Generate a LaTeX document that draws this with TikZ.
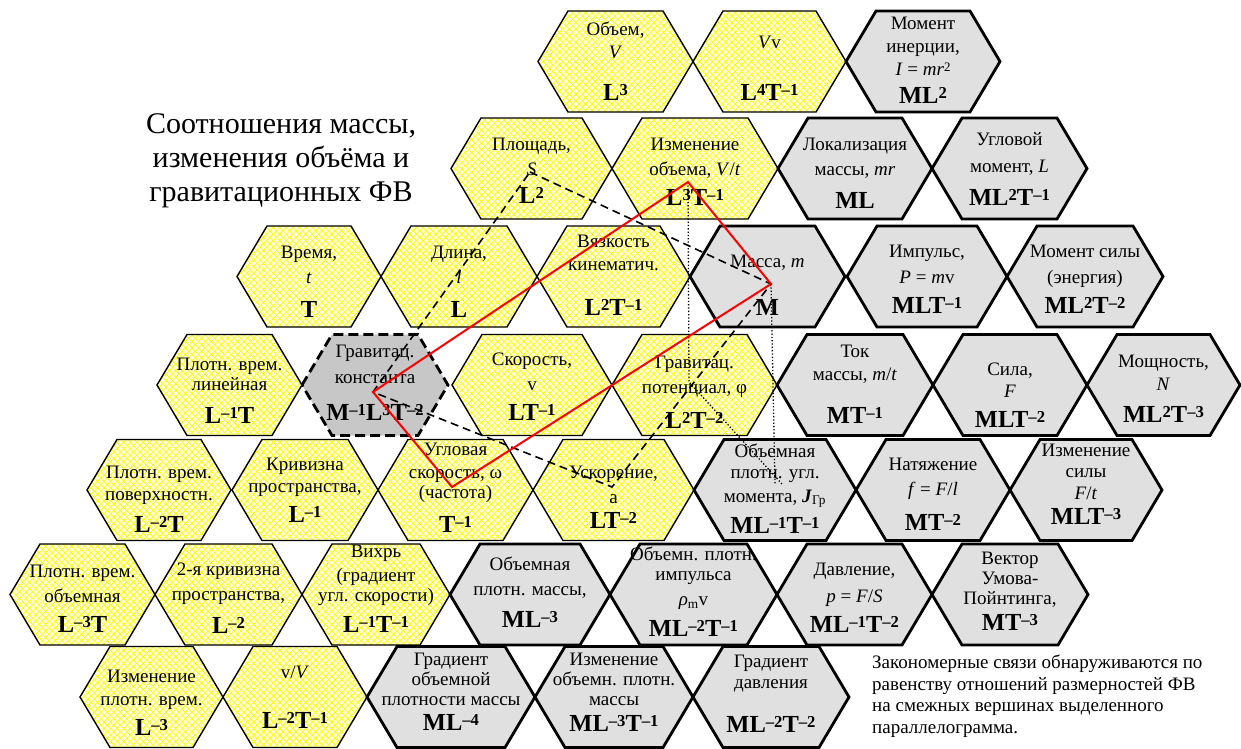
\documentclass[tikz,border=0pt]{standalone}
\usepackage{fontspec}
\setmainfont{Liberation Serif}
\usetikzlibrary{patterns.meta}
\newcommand\su[1]{\raisebox{0.2em}{\scalebox{0.68}{#1}}}
\tikzset{
  yhex/.style={fill=yellow!10,
    postaction={pattern={Lines[angle=45,distance=4.6pt,line width=0.8pt]},pattern color=yellow},
    postaction={pattern={Lines[angle=-45,distance=4.6pt,line width=0.8pt]},pattern color=yellow},
    postaction={draw=black,line width=1.4pt}},
  ghex/.style={fill=black!12,draw=black,line width=2.8pt},
  khex/.style={fill=black!22,draw=black,line width=2.8pt,dash pattern=on 10pt off 5pt},
  nm/.style={anchor=north,align=center,inner sep=0pt,font=\fontsize{19}{23}\selectfont},
  dm/.style={anchor=base,inner sep=0pt,font=\fontsize{24.5}{28}\selectfont\bfseries},
  redl/.style={draw=red,line width=2pt,line join=miter},
  dashl/.style={draw=black,line width=1.6pt,dash pattern=on 8pt off 5pt},
  dotl/.style={draw=black,line width=1.3pt,dash pattern=on 1.3pt off 2pt},
}
\newcommand\hexp[4]{\path[#1] (#2,#3) ++(-#4,0) -- ++(30,-50.5) -- ++({2*#4-60},0) -- ++(30,50.5) -- ++(-30,50.5) -- ++({60-2*#4},0) -- cycle;}
\newcommand\HX[9]{\hexp{#1}{#3}{#4}{#5}%
  \node[nm] (#2) at ({#3},{#4+(#6)-15}) {\rule{0pt}{15pt}#7};%
  \node[dm] (#2d) at ({#3},{#4+(#8)}) {#9};}
\begin{document}
\begin{tikzpicture}[x=1pt,y=-1pt]
\useasboundingbox (0,0) rectangle (1241,748);
\fill[white] (0,0) rectangle (1241,748);
% row 0
\HX{yhex}{ob}{615.5}{61.5}{77.5}{-26.5}{Объем,\\\textit{V}}{38.5}{L\su{3}}
\HX{yhex}{vv}{769.5}{61.5}{76.5}{-13.5}{\textit{V}v}{38.5}{L\su{4}T\su{–1}}
\HX{ghex}{mi}{923}{61.5}{77}{-32.5}{Момент\\инерции,\\\textit{I} = \textit{mr}\su{2}}{41.5}{ML\su{2}}
% row 1
\HX{yhex}{pl}{531.5}{168.5}{80.5}{-18.5}{Площадь,\\[2pt]\textit{S}}{34.5}{L\su{2}}
\HX{yhex}{iv}{695}{168.5}{83}{-18.5}{Изменение\\[2pt]объема, \textit{V}/\textit{t}}{36.5}{L\su{3}T\su{–1}}
\HX{ghex}{lm}{855}{168.5}{77}{-18.5}{Локализация\\[2pt]массы, \textit{mr}}{39.5}{ML}
\HX{ghex}{um}{1009.5}{168.5}{77.5}{-23.5}{Угловой\\[4pt]момент, \textit{L}}{36.5}{ML\su{2}T\su{–1}}
% row 2
\HX{yhex}{vr}{309}{276.5}{72}{-18.5}{Время,\\[2pt]\textit{t}}{40.5}{T}
\HX{yhex}{dl}{459}{276.5}{78}{-18.5}{Длина,\\[2pt]\textit{l}}{40.5}{L}
\HX{yhex}{vk}{613.5}{276.5}{76.5}{-29.5}{Вязкость\\кинематич.}{38.5}{L\su{2}T\su{–1}}
\HX{ghex}{ms}{767.5}{276.5}{77.5}{-9.5}{Масса, \textit{m}}{38.5}{M}
\HX{ghex}{im}{927}{276.5}{80}{-19.5}{Импульс,\\[3pt]\textit{P} = \textit{m}v}{36.5}{MLT\su{–1}}
\HX{ghex}{mc}{1085}{276.5}{78}{-19.5}{Момент силы\\[3pt](энергия)}{36.5}{ML\su{2}T\su{–2}}
% row 3
\HX{yhex}{pvl}{229.5}{385}{72.5}{-15}{Плотн. врем.\\[-3pt]линейная}{38}{L\su{–1}T}
\HX{khex}{gk}{375}{385}{73}{-28}{Гравитац.\\[3pt]константа}{35}{M\su{–1}L\su{3}T\su{–2}}
\HX{yhex}{sk}{532}{385}{80}{-20}{Скорость,\\[2pt]v}{35}{LT\su{–1}}
\HX{yhex}{gp}{694.5}{385}{82.5}{-17}{Гравитац.\\[2pt]потенциал, φ}{43}{L\su{2}T\su{–2}}
\HX{ghex}{tm}{855}{385}{78}{-28}{Ток\\массы, \textit{m}/\textit{t}}{38}{MT\su{–1}}
\HX{ghex}{sl}{1010}{385}{77}{-10}{Сила,\\[-1pt]\textit{F}}{42}{MLT\su{–2}}
\HX{ghex}{mo}{1163.5}{385}{76.5}{-18}{Мощность,\\\textit{N}}{37}{ML\su{2}T\su{–3}}
% row 4
\HX{yhex}{pvp}{159}{490}{72}{-12}{Плотн. врем.\\[-1pt]поверхностн.}{42}{L\su{–2}T}
\HX{yhex}{kp}{305}{490}{73}{-20}{Кривизна\\[-1pt]пространства,}{32}{L\su{–1}}
\HX{yhex}{us}{455.5}{490}{77.5}{-35}{Угловая\\скорость, ω\\[-3pt](частота)}{42}{T\su{–1}}
\HX{yhex}{uk}{613.5}{490}{80.5}{-12}{Ускорение,\\[2pt]a}{38}{LT\su{–2}}
\HX{ghex}{jg}{775}{490}{81}{-33}{Объемная\\[-2pt]плотн. угл.\\[1pt]момента, \textbf{\textit{J}}\textsubscript{Гр}}{43}{ML\su{–1}T\su{–1}}
\HX{ghex}{nt}{933}{490}{77}{-20}{Натяжение\\[2pt]\textit{f} = \textit{F}/\textit{l}}{40}{MT\su{–2}}
\HX{ghex}{is}{1086}{490}{76}{-34}{Изменение\\[-2pt]силы\\[-1pt]\textit{F}/\textit{t}}{34}{MLT\su{–3}}
% row 5
\HX{yhex}{pvo}{82.5}{594.5}{72.5}{-17.5}{Плотн. врем.\\[2pt]объемная}{37.5}{L\su{–3}T}
\HX{yhex}{kp2}{228.5}{594.5}{73.5}{-19.5}{2-я кривизна\\[2pt]пространства,}{38.5}{L\su{–2}}
\HX{yhex}{vx}{376}{594.5}{74}{-37}{Вихрь\\[1pt](градиент\\[-3pt]угл. скорости)}{37.5}{L\su{–1}T\su{–1}}
\HX{ghex}{opm}{530}{594.5}{80}{-24.5}{Объемная\\[2pt]плотн. массы,}{32.5}{ML\su{–3}}
\HX{ghex}{opi}{693.5}{594.5}{83.5}{-34}{Объемн. плотн.\\[-3pt]импульса\\[2pt]\textit{ρ}\textsubscript{m}v}{41.5}{ML\su{–2}T\su{–1}}
\HX{ghex}{dv}{854.5}{594.5}{77.5}{-19.5}{Давление,\\[4pt]\textit{p} = \textit{F}/\textit{S}}{37.5}{ML\su{–1}T\su{–2}}
\HX{ghex}{vu}{1010}{594.5}{78}{-30}{Вектор\\[-3pt]Умова-\\[-3pt]Пойнтинга,}{36}{MT\su{–3}}
% row 6
\HX{yhex}{ipv}{151.5}{697}{71.5}{-15}{Изменение\\плотн. врем.}{38}{L\su{–3}}
\HX{yhex}{vV}{295}{697}{72}{-19}{v/\textit{V}}{31}{L\su{–2}T\su{–1}}
\HX{ghex}{gom}{451}{697}{84}{-32}{Градиент\\[-3pt]объемной\\[-3pt]плотности массы}{33}{ML\su{–4}}
\HX{ghex}{iom}{614}{697}{79}{-32}{Изменение\\[-3pt]объемн. плотн.\\[-3pt]массы}{34}{ML\su{–3}T\su{–1}}
\HX{ghex}{gd}{771}{697}{78}{-30}{Градиент\\[-2pt]давления}{35}{ML\su{–2}T\su{–2}}
% title and note
\node[anchor=north,align=center,inner sep=0pt,font=\fontsize{30}{34}\selectfont] (title) at (281,111) {\rule{0pt}{22pt}Соотношения массы,\\изменения объёма и\\гравитационных ФВ};
\node[anchor=north west,align=left,inner sep=0pt,font=\fontsize{19}{21.8}\selectfont] (note) at (872,654) {\rule{0pt}{14pt}Закономерные связи обнаруживаются по\\равенству отношений размерностей ФВ\\на смежных вершинах выделенного\\параллелограмма.};
% connectors
\coordinate (pS) at (530,172);
\coordinate (pB) at (688,182);
\coordinate (pM) at (771,284);
\coordinate (pD) at (452,487);
\coordinate (pG) at (373,392);
\coordinate (pA) at (612,487);
\coordinate (pK) at (689,382);
\coordinate (pJa) at (782,484);
\coordinate (pJb) at (775,484);
\draw[dotl] (pB) -- (pK) -- (pJa);
\draw[dotl] (pM) -- (pJb);
\draw[dashl] (pS) -- (pM) -- (pA) -- (pG) -- cycle;
\draw[redl] (pG) -- (pB) -- (pM) -- (pD) -- cycle;
\end{tikzpicture}
\end{document}
